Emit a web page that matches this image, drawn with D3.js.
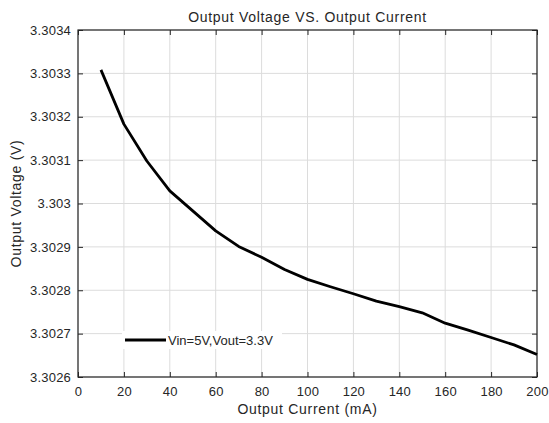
<!DOCTYPE html>
<html>
<head>
<meta charset="utf-8">
<script src="https://cdn.jsdelivr.net/npm/d3@7"></script>
<style>
  body { margin: 0; background: #fff; }
  text { font-family: "Liberation Sans", Arial, sans-serif; fill: #262626; }
</style>
</head>
<body>
<div id="chart"></div>
<script>
var currents = [10, 20, 30, 40, 50, 60, 70, 80, 90, 100, 110, 120, 130, 140, 150, 160, 170, 180, 190, 200];
var voltages = [3.303308, 3.303183, 3.303098, 3.303029, 3.302983, 3.302937, 3.302901, 3.302876, 3.302848, 3.302825,
                3.302808, 3.302792, 3.302775, 3.302762, 3.302748, 3.302724, 3.302708, 3.302691, 3.302674, 3.302652];
var xTicks = [0, 20, 40, 60, 80, 100, 120, 140, 160, 180, 200];
var yTicks = [3.3026, 3.3027, 3.3028, 3.3029, 3.303, 3.3031, 3.3032, 3.3033, 3.3034];
var seriesName = "Vin=5V,Vout=3.3V";

var w = 549, h = 423;
var margin = {top: 30, right: 12, bottom: 46, left: 78};
var width = w - margin.left - margin.right,
    height = h - margin.top - margin.bottom;

var svg = d3.select("#chart").append("svg")
    .attr("width", w)
    .attr("height", h);

var g = svg.append("g")
    .attr("transform", "translate(" + margin.left + "," + margin.top + ")");

var x = d3.scaleLinear().domain([0, 200]).range([0, width]);
var y = d3.scaleLinear().domain([3.3026, 3.3034]).range([height, 0]);

// grid
g.selectAll(".vgrid").data(xTicks).enter().append("line")
    .attr("x1", function (d) { return x(d); })
    .attr("x2", function (d) { return x(d); })
    .attr("y1", 0).attr("y2", height)
    .style("stroke", "#dcdcdc").style("stroke-width", 1);
g.selectAll(".hgrid").data(yTicks).enter().append("line")
    .attr("y1", function (d) { return y(d); })
    .attr("y2", function (d) { return y(d); })
    .attr("x1", 0).attr("x2", width)
    .style("stroke", "#dcdcdc").style("stroke-width", 1);

// axes
function styleAxis(sel) {
    sel.select(".domain").remove();
    sel.selectAll("line").style("stroke", "#262626");
    sel.selectAll("text").style("font-size", "13px").style("fill", "#262626")
        .style("letter-spacing", "0.2px")
        .style("font-family", "'Liberation Sans', Arial, sans-serif");
}

g.append("g")
    .attr("transform", "translate(0," + height + ")")
    .call(d3.axisBottom(x).tickValues(xTicks).tickSizeInner(-5).tickSizeOuter(0).tickPadding(10))
    .call(styleAxis);
g.append("g")
    .call(d3.axisTop(x).tickValues(xTicks).tickSizeInner(-5).tickSizeOuter(0).tickFormat(""))
    .call(styleAxis);
g.append("g")
    .call(d3.axisLeft(y).tickValues(yTicks).tickSizeInner(-5).tickSizeOuter(0).tickPadding(7)
        .tickFormat(function (d) { return +d.toFixed(4) + ""; }))
    .call(styleAxis);
g.append("g")
    .attr("transform", "translate(" + width + ",0)")
    .call(d3.axisRight(y).tickValues(yTicks).tickSizeInner(-5).tickSizeOuter(0).tickFormat(""))
    .call(styleAxis);

g.append("rect")
    .attr("width", width).attr("height", height)
    .style("fill", "none").style("stroke", "#262626").style("stroke-width", 1.2);

// line
var pts = currents.map(function (c, i) { return [c, voltages[i]]; });
g.append("path")
    .datum(pts)
    .attr("d", d3.line().x(function (d) { return x(d[0]); }).y(function (d) { return y(d[1]); }))
    .style("fill", "none").style("stroke", "#000").style("stroke-width", 2.8)
    .style("stroke-linejoin", "round");

// legend
var leg = g.append("g").attr("transform", "translate(47," + (height - 37) + ")");
leg.append("rect").attr("x", -3).attr("y", -9).attr("width", 160).attr("height", 18)
    .style("fill", "#fff");
leg.append("line").attr("x1", 0).attr("x2", 41).attr("y1", 0).attr("y2", 0)
    .style("stroke", "#000").style("stroke-width", 2.8);
leg.append("text").attr("x", 43).attr("y", 4.5).style("font-size", "13px").text(seriesName);

// titles
svg.append("text")
    .attr("x", margin.left + width / 2).attr("y", 22)
    .attr("text-anchor", "middle").style("font-size", "14px").style("letter-spacing", "0.7px")
    .text("Output Voltage VS. Output Current");
svg.append("text")
    .attr("x", margin.left + width / 2).attr("y", 414)
    .attr("text-anchor", "middle").style("font-size", "14px").style("letter-spacing", "0.7px")
    .text("Output Current (mA)");
svg.append("text")
    .attr("transform", "translate(21," + (margin.top + height / 2) + ") rotate(-90)")
    .attr("text-anchor", "middle").style("font-size", "14px").style("letter-spacing", "0.7px")
    .text("Output Voltage (V)");
</script>
</body>
</html>
